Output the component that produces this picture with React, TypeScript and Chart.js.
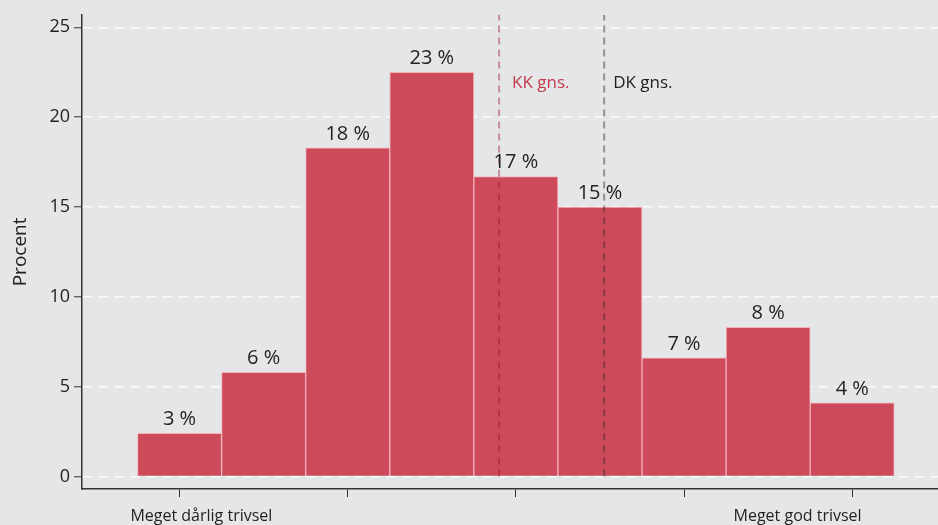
import React, { useEffect, useRef } from "react";
import { Chart, registerables } from "chart.js";

Chart.register(...registerables);

// ---- data ----
const binPositions = [1, 2, 3, 4, 5, 6, 7, 8, 9];
const percentValues = [2.4, 5.8, 18.3, 22.5, 16.7, 15.0, 6.6, 8.3, 4.1];
const percentLabels = ["3 %", "6 %", "18 %", "23 %", "17 %", "15 %", "7 %", "8 %", "4 %"];
const yTickValues = [0, 5, 10, 15, 20, 25];
const xTickValues = [1, 3, 5, 7, 9];
const xEndLabels = ["Meget dårlig trivsel", "Meget god trivsel"];
const meanValues = [4.8, 6.05];
const meanLabels = ["KK gns.", "DK gns."];
const yAxisTitle = "Procent";

const X_MIN = -0.16;
const X_MAX = 10.02;
const Y_MIN = -0.7;
const Y_MAX = 25.7;

const FONT = "'Open Sans', 'Noto Sans', sans-serif";
const BG = "#e5e6e8";
const BAR_FILL = "#cd4a5b";
const BAR_BORDER = "#f3b3ba";
const KK_LINE = "rgba(150,20,40,0.42)";
const DK_LINE = "rgba(40,40,40,0.45)";
const TEXT = "#222222";
const KK_TEXT = "#c23a4c";

const bgPlugin = {
  id: "bgFill",
  beforeDraw(chart: any) {
    const ctx = chart.ctx;
    ctx.save();
    ctx.fillStyle = BG;
    ctx.fillRect(0, 0, chart.width, chart.height);
    ctx.restore();
  },
};

const textPlugin = {
  id: "textLabels",
  afterDatasetsDraw(chart: any) {
    const ctx = chart.ctx;
    const xs = chart.scales.x;
    const ys = chart.scales.y;
    ctx.save();
    // bar value labels
    const meta = chart.getDatasetMeta(2);
    ctx.font = `20px ${FONT}`;
    ctx.fillStyle = TEXT;
    ctx.textAlign = "center";
    ctx.textBaseline = "alphabetic";
    meta.data.forEach((el: any, i: number) => {
      ctx.fillText(percentLabels[i], el.x, el.y - 8);
    });
    // mean labels
    ctx.font = `17px ${FONT}`;
    ctx.textAlign = "left";
    const yLbl = ys.getPixelForValue(21.6);
    ctx.fillStyle = KK_TEXT;
    ctx.fillText(meanLabels[0], xs.getPixelForValue(meanValues[0]) + 13, yLbl);
    ctx.fillStyle = TEXT;
    ctx.fillText(meanLabels[1], xs.getPixelForValue(meanValues[1]) + 9, yLbl);
    // x end labels
    ctx.font = `16px ${FONT}`;
    ctx.textAlign = "center";
    ctx.fillStyle = TEXT;
    const by = chart.chartArea.bottom + 31.5;
    ctx.fillText(xEndLabels[0], xs.getPixelForValue(1.26), by);
    ctx.fillText(xEndLabels[1], xs.getPixelForValue(8.35), by);
    ctx.restore();
  },
};

export default function App() {
  const ref = useRef<HTMLCanvasElement | null>(null);

  useEffect(() => {
    if (!ref.current) return;
    const meanLine = (x: number, color: string) => ({
      type: "line" as const,
      data: [
        { x, y: 0 },
        { x, y: Y_MAX },
      ],
      borderColor: color,
      borderWidth: 2,
      borderDash: [7, 5],
      pointRadius: 0,
      fill: false,
      order: 1,
    });
    const chart = new Chart(ref.current, {
      type: "bar",
      data: {
        datasets: [
          meanLine(meanValues[0], KK_LINE) as any,
          meanLine(meanValues[1], DK_LINE) as any,
          {
            type: "bar",
            data: binPositions.map((x, i) => ({ x, y: percentValues[i] })),
            backgroundColor: BAR_FILL,
            borderColor: BAR_BORDER,
            borderWidth: 1,
            barPercentage: 1,
            categoryPercentage: 1,
            order: 3,
          } as any,
        ],
      },
      options: {
        animation: false,
        responsive: false,
        devicePixelRatio: 1,
        layout: { padding: { top: 13, left: 0, right: 0, bottom: 0 } },
        plugins: {
          legend: { display: false },
          tooltip: { enabled: false },
        },
        scales: {
          x: {
            type: "linear",
            min: X_MIN,
            max: X_MAX,
            offset: false,
            afterBuildTicks: (s: any) => {
              s.ticks = xTickValues.map((v) => ({ value: v }));
            },
            afterFit: (s: any) => {
              s.height = 36;
            },
            ticks: { display: false },
            grid: {
              offset: false,
              drawOnChartArea: false,
              drawTicks: true,
              tickLength: 8,
              tickColor: "#333333",
              tickWidth: 1,
            },
            border: { display: true, color: "#333333", width: 1.5 },
          },
          y: {
            type: "linear",
            min: Y_MIN,
            max: Y_MAX,
            afterBuildTicks: (s: any) => {
              s.ticks = yTickValues.map((v) => ({ value: v }));
            },
            afterFit: (s: any) => {
              s.width = 82;
            },
            ticks: {
              font: { family: FONT, size: 18 },
              color: TEXT,
              padding: 4,
            },
            grid: {
              color: "rgba(255,255,255,0.85)",
              lineWidth: 1.5,
              drawTicks: true,
              tickLength: 8,
              tickColor: "#333333",
              tickWidth: 1,
              tickBorderDash: [],
            } as any,
            border: { display: true, color: "#333333", width: 1.5, dash: [10, 6] },
            title: {
              display: true,
              text: yAxisTitle,
              font: { family: FONT, size: 19 },
              color: TEXT,
              padding: { top: 9, bottom: 0 },
            },
          },
        },
      },
      plugins: [bgPlugin, textPlugin],
    });
    return () => chart.destroy();
  }, []);

  return (
    <div style={{ position: "fixed", left: 0, top: 0, width: 938, height: 525 }}>
      <canvas ref={ref} width={938} height={525} style={{ display: "block" }} />
    </div>
  );
}
